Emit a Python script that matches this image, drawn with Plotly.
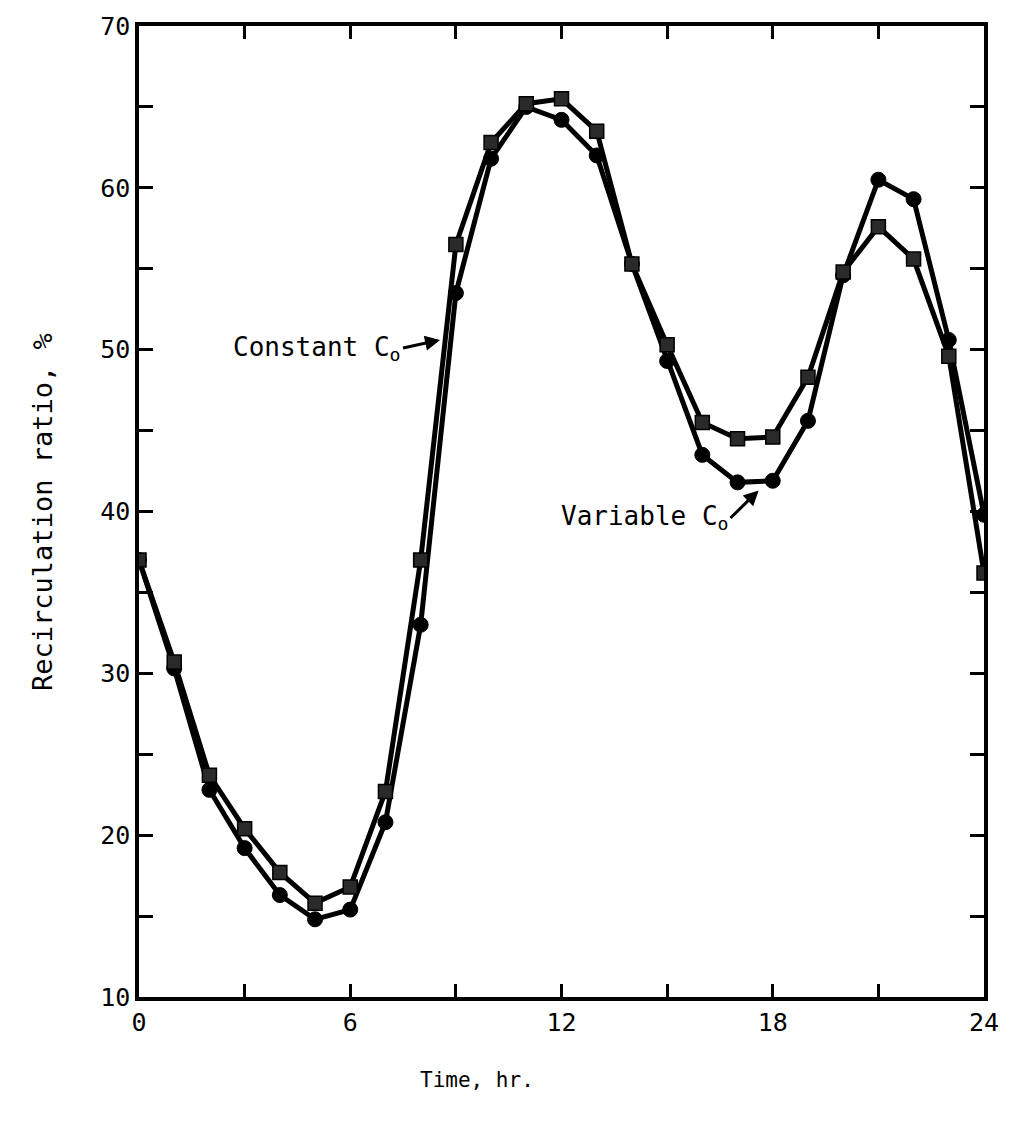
import plotly.graph_objects as go

hours = list(range(25))
constant_c0 = [37, 30.7, 23.7, 20.4, 17.7, 15.8, 16.8, 22.7, 37, 56.5, 62.8, 65.2, 65.5,
               63.5, 55.3, 50.3, 45.5, 44.5, 44.6, 48.3, 54.8, 57.6, 55.6, 49.6, 36.2]
variable_c0 = [37, 30.3, 22.8, 19.2, 16.3, 14.8, 15.4, 20.8, 33.0, 53.5, 61.8, 65.0, 64.2,
               62.0, 55.3, 49.3, 43.5, 41.8, 41.9, 45.6, 54.6, 60.5, 59.3, 50.6, 39.8]

x_tickvals = list(range(0, 25, 3))
x_ticktext = [str(v) if v % 6 == 0 else "" for v in x_tickvals]
y_tickvals = list(range(10, 71, 5))
y_ticktext = [str(v) if v % 10 == 0 else "" for v in y_tickvals]

FONT = "DejaVu Sans Mono"

fig = go.Figure()
fig.add_trace(go.Scatter(
    x=hours, y=variable_c0, mode="lines+markers", name="Variable C0",
    line=dict(color="black", width=5),
    marker=dict(symbol="circle", size=15, color="black", line=dict(color="black", width=1)),
))
fig.add_trace(go.Scatter(
    x=hours, y=constant_c0, mode="lines+markers", name="Constant C0",
    line=dict(color="black", width=5),
    marker=dict(symbol="square", size=14, color="#2a2a2a", line=dict(color="black", width=1.5)),
))

fig.update_layout(
    width=1015, height=1124,
    margin=dict(l=139, r=31, t=20, b=127),
    paper_bgcolor="white", plot_bgcolor="white",
    showlegend=False,
    font=dict(family=FONT, size=22, color="black"),
    xaxis=dict(
        range=[0, 24], tickmode="array", tickvals=x_tickvals, ticktext=x_ticktext,
        ticks="inside", ticklen=13, tickwidth=3, tickcolor="black",
        showline=True, linecolor="black", linewidth=3.5, mirror="ticks",
        showgrid=False, zeroline=False,
        tickfont=dict(family=FONT, size=25),
    ),
    yaxis=dict(
        range=[10, 70], tickmode="array", tickvals=y_tickvals, ticktext=y_ticktext,
        ticks="inside", ticklen=14, tickwidth=3, tickcolor="black",
        showline=True, linecolor="black", linewidth=3.5, mirror="ticks",
        showgrid=False, zeroline=False,
        tickfont=dict(family=FONT, size=25),
    ),
    annotations=[
        dict(text="Recirculation ratio, %", xref="paper", yref="paper",
             x=-0.135, y=0.5, textangle=-90, showarrow=False,
             font=dict(family=FONT, size=27)),
        dict(text="Time, hr.", xref="paper", yref="paper",
             x=0.40, y=-0.1, showarrow=False,
             font=dict(family=FONT, size=21)),
        dict(text="Constant C<sub>o</sub>", x=8.55, y=50.6, ax=7.5, ay=50.1,
             xref="x", yref="y", axref="x", ayref="y",
             showarrow=True, arrowhead=2, arrowsize=1, arrowwidth=3, arrowcolor="black",
             xanchor="right", font=dict(family=FONT, size=26)),
        dict(text="Variable C<sub>o</sub>", x=17.6, y=41.3, ax=16.8, ay=39.6,
             xref="x", yref="y", axref="x", ayref="y",
             showarrow=True, arrowhead=2, arrowsize=1, arrowwidth=3, arrowcolor="black",
             xanchor="right", font=dict(family=FONT, size=26)),
    ],
)

fig.write_html("out.html")
